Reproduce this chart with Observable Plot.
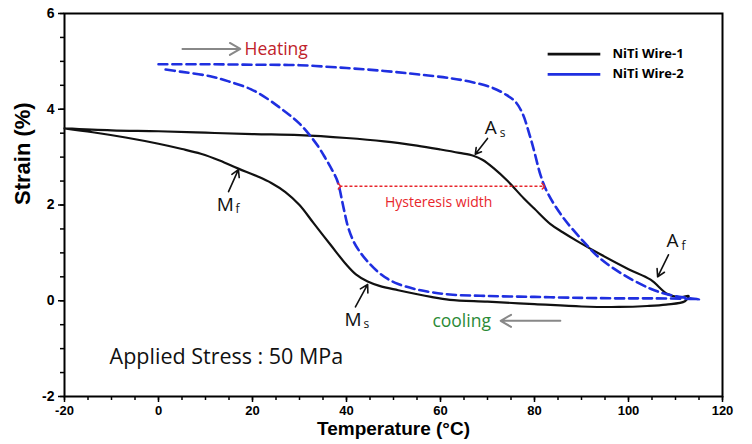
<!DOCTYPE html>
<html><head><meta charset="utf-8">
<script src="https://cdn.jsdelivr.net/npm/d3@7"></script>
<script src="https://cdn.jsdelivr.net/npm/@observablehq/plot@0.6"></script>
<style>body{margin:0;background:#fff}</style>
</head><body><div id="chart"></div>
<script>
// Wire-1: heating branch then cooling branch
const wire1Temp = [-20,-10,0,10,20,30,40,48,55,60,64,67,69,71.3,74.3,77.7,80,83.4,86,89,94,100,104.7,108.3,111,112.8,
  112,108,104,98,90,80,70,62,58,51,47,44.5,42,40,36.6,33,30,27,24,21,17,13,9,5,0,-7,-14,-20];
const wire1Strain = [3.60,3.56,3.54,3.51,3.48,3.46,3.40,3.33,3.24,3.16,3.09,3.03,2.94,2.77,2.50,2.14,1.92,1.60,1.43,1.25,0.97,0.66,0.44,0.14,0.07,0.10,
  -0.01,-0.08,-0.11,-0.13,-0.12,-0.07,-0.02,0.02,0.08,0.22,0.31,0.40,0.55,0.75,1.17,1.62,2.00,2.27,2.46,2.60,2.76,2.93,3.07,3.17,3.28,3.41,3.52,3.60];
// Wire-2: heating branch then cooling branch
const wire2Temp = [0,10,20,30,40,48,55,62,67,71,74,76,77.5,79,80,81.3,82.8,86,90.4,94,99,104.7,108,111.7,115,
  113,105,98,90,80,70,62,58,54.3,51,48.7,46.5,44.5,43,41.5,40.3,39.4,38.1,37,35.5,34,32,30,28,26,23,19.6,15,11,5,0.7];
const wire2Strain = [4.94,4.94,4.93,4.92,4.86,4.80,4.73,4.65,4.56,4.45,4.30,4.15,3.90,3.45,3.10,2.62,2.25,1.75,1.24,0.88,0.54,0.25,0.14,0.07,0.03,
  0.04,0.05,0.05,0.06,0.08,0.10,0.13,0.18,0.25,0.35,0.46,0.62,0.82,1.00,1.24,1.55,1.93,2.49,2.72,2.98,3.22,3.48,3.70,3.87,4.02,4.23,4.42,4.58,4.69,4.78,4.84];

const seriesNames = ["NiTi Wire-1","NiTi Wire-2"];
const seriesColors = ["#111111","#1f2fe0"];
const xTicks = [-20,0,20,40,60,80,100,120];
const yTicks = [-2,0,2,4,6];
const xLabel = "Temperature (°C)";
const yLabel = "Strain (%)";

// legend (data coordinates)
const legendX1 = [82.8,82.8], legendX2 = [94,94], legendY = [5.15,4.73], legendTextX = [96.6,96.6];

// annotations (data coordinates)
const heatingArrow = {x1:5.1,y1:5.26,x2:17.4,y2:5.26};
const heatingText = {text:"Heating",x:18.3,y:5.26};
const coolingArrow = {x1:85.5,y1:-0.42,x2:72.8,y2:-0.42};
const coolingText = {text:"cooling",x:64.5,y:-0.44};
const hysteresisLink = {x1:38.5,y1:2.39,x2:81.9,y2:2.39};
const hysteresisText = {text:"Hysteresis width",x:59.6,y:2.05};
const stressText = {text:"Applied Stress : 50 MPa",x:-10.4,y:-1.17};
const pointLabels = [
  {base:"M",sub:"f",x:12.4,y:2.0,sx:16.4,sy:1.91},
  {base:"M",sub:"s",x:39.6,y:-0.40,sx:43.6,sy:-0.49},
  {base:"A",sub:"s",x:69.4,y:3.60,sx:72.6,sy:3.51},
  {base:"A",sub:"f",x:108.1,y:1.24,sx:111.3,sy:1.15}
];
const pointArrows = [
  {x1:14.9,y1:2.28,x2:17.0,y2:2.74},
  {x1:41.9,y1:-0.13,x2:44.5,y2:0.34},
  {x1:70.0,y1:3.39,x2:67.4,y2:3.06},
  {x1:108.5,y1:0.96,x2:106.2,y2:0.50}
];

const w1 = wire1Temp.map((t,i)=>({t, s:wire1Strain[i]}));
const w2 = wire2Temp.map((t,i)=>({t, s:wire2Strain[i]}));
const legend = seriesNames.map((n,i)=>({n, c:seriesColors[i], x1:legendX1[i], x2:legendX2[i], y:legendY[i], tx:legendTextX[i]}));

const axisFont = "'Liberation Sans',Arial,sans-serif";
const annoFont = "'Open Sans',sans-serif";
const fmt = d => String(d);

const chart = Plot.plot({
  width: 752, height: 444,
  marginLeft: 64, marginRight: 30, marginTop: 13, marginBottom: 48,
  x: {domain: [-20,120]},
  y: {domain: [-2,6]},
  style: {fontFamily: axisFont, background: "#fff", color: "#000"},
  marks: [
    Plot.axisX({ticks: xTicks, tickSize: 6, tickPadding: 3, fontSize: 13, fontWeight: "bold", tickFormat: fmt, label: null, strokeWidth: 1.5}),
    Plot.axisX({interval: 5, tickSize: 4, tickFormat: () => "", label: null, strokeWidth: 1.5}),
    Plot.axisY({ticks: yTicks, tickSize: 6, tickPadding: 4, fontSize: 14, fontWeight: "bold", tickFormat: fmt, label: null, strokeWidth: 1.5}),
    Plot.axisY({interval: 0.5, tickSize: 4, tickFormat: () => "", label: null, strokeWidth: 1.5}),
    Plot.frame({strokeWidth: 2}),
    Plot.text([xLabel], {frameAnchor: "bottom", dy: 38, fontSize: 19, fontWeight: "bold"}),
    Plot.text([yLabel], {frameAnchor: "left", dx: -42, rotate: -90, fontSize: 22, fontWeight: "bold"}),
    Plot.line(w1, {x: "t", y: "s", stroke: seriesColors[0], strokeWidth: 2.2, curve: "catmull-rom"}),
    Plot.line(w2, {x: "t", y: "s", stroke: seriesColors[1], strokeWidth: 2.6, strokeDasharray: "9,5", curve: "catmull-rom"}),
    // legend
    Plot.link(legend, {x1: "x1", x2: "x2", y1: "y", y2: "y", stroke: "c", strokeWidth: 2.8, strokeDasharray: (d,i)=> i===1 ? "10,7" : null}),
    Plot.text(legend, {x: "tx", y: "y", text: "n", textAnchor: "start", fontSize: 13, fontWeight: "bold", fontFamily: annoFont}),
    // annotations
    Plot.arrow([heatingArrow], {x1:"x1",y1:"y1",x2:"x2",y2:"y2", stroke:"#888", strokeWidth:2, headLength:9}),
    Plot.text([heatingText], {x:"x",y:"y",text:"text",textAnchor:"start",fill:"#c0222a",fontSize:17.5,fontFamily:annoFont}),
    Plot.arrow([coolingArrow], {x1:"x1",y1:"y1",x2:"x2",y2:"y2", stroke:"#888", strokeWidth:2, headLength:9}),
    Plot.text([coolingText], {x:"x",y:"y",text:"text",fill:"#2a8a36",fontSize:17.5,fontFamily:annoFont}),
    Plot.link([hysteresisLink], {x1:"x1",y1:"y1",x2:"x2",y2:"y2", stroke:"#e8262c", strokeWidth:1.5, strokeDasharray:"3,2", markerStart:"arrow", markerEnd:"arrow"}),
    Plot.text([hysteresisText], {x:"x",y:"y",text:"text",fill:"#e8262c",fontSize:14,fontFamily:annoFont}),
    Plot.text([stressText], {x:"x",y:"y",text:"text",textAnchor:"start",fill:"#111",fontSize:21.5,fontFamily:annoFont}),
    Plot.arrow(pointArrows, {x1:"x1",y1:"y1",x2:"x2",y2:"y2", stroke:"#111", strokeWidth:1.6, headLength:8}),
    Plot.text(pointLabels, {x:"x",y:"y",text:"base",textAnchor:"start",fill:"#111",fontSize:19,fontFamily:annoFont}),
    Plot.text(pointLabels, {x:"sx",y:"sy",text:"sub",textAnchor:"start",fill:"#111",fontSize:12,fontFamily:annoFont})
  ]
});
document.getElementById("chart").appendChild(chart);
</script>
</body></html>
